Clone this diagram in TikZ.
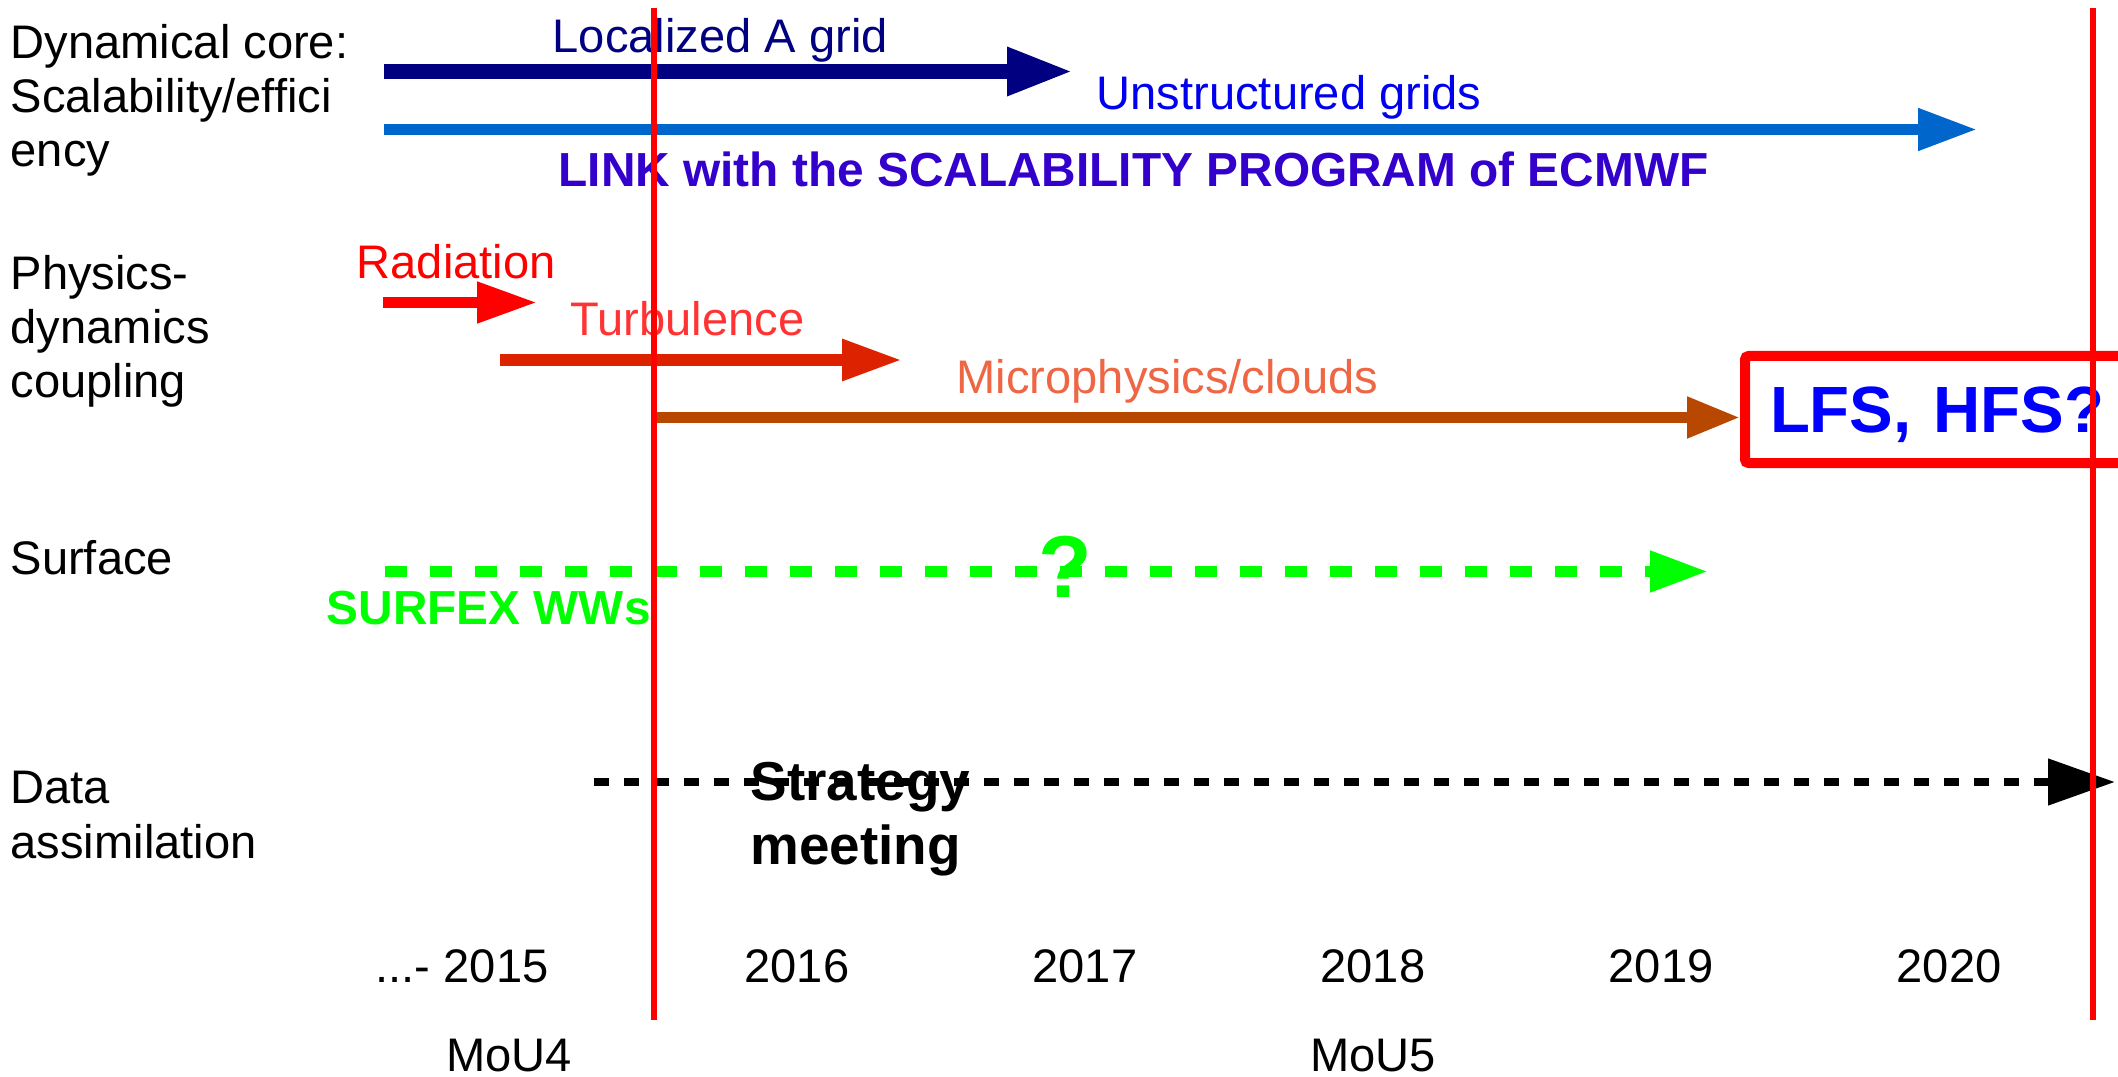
\documentclass[tikz,border=0pt]{standalone}
\usepackage{fontspec}
\setmainfont{Liberation Sans}
\usetikzlibrary{arrows.meta}
\definecolor{navyc}{HTML}{000080}
\definecolor{unstrc}{HTML}{0000EE}
\definecolor{cobalt}{HTML}{0066CC}
\definecolor{linkc}{HTML}{3300CC}
\definecolor{turbtxt}{HTML}{FF3333}
\definecolor{turbc}{HTML}{DD2200}
\definecolor{microtxt}{HTML}{EE6644}
\definecolor{microc}{HTML}{B84700}
\definecolor{surfc}{HTML}{00FF00}
\tikzset{
  >=Triangle,
  bar/.style n args={3}{line width=#1, -{Triangle[length=#2,width=#3]}},
}
\tikzstyle{every node}=[inner sep=0pt, font=\fontsize{13.4}{15.4}\selectfont]
\tikzstyle{lbl}=[anchor=base west, align=left]
\tikzstyle{boldlbl}=[lbl, font=\fontsize{13.6}{15.4}\selectfont\bfseries]
\tikzstyle{yr}=[anchor=base]
\tikzstyle{mouline}=[red, line width=0.6mm]
\tikzstyle{lfsbox}=[draw=red, line width=1mm, rounded corners=1pt, text=blue,
  font=\fontsize{18.6}{20}\selectfont\bfseries, minimum height=1.07cm,
  text width=4cm, align=left, inner xsep=0.25cm, text depth=0pt]

\begin{document}
\begin{tikzpicture}
    \useasboundingbox (0,0) rectangle (21.18,-10.77);
    \clip (0,0) rectangle (21.18,-10.77);

    % rows (multi-line nodes sit on their last baseline)
    \node[lbl] (dyn) at (0.10,-1.67) {Dynamical core:\\Scalability/effici\\ency};
    \node[lbl] (phys) at (0.10,-3.98) {Physics-\\dynamics\\coupling};
    \node[lbl] (surf) at (0.10,-5.74) {Surface};
    \node[lbl] (da) at (0.10,-8.58) {Data\\assimilation};

    % dynamical core
    \node[lbl, text=navyc] (loc) at (5.52,-0.53) {Localized A grid};
    \coordinate (loc-s) at (3.84,-0.715);
    \coordinate (loc-e) at (10.73,-0.715);
    \draw[bar={1.5mm}{6.6mm}{4.5mm}, navyc] (loc-s) -- (loc-e);
    \node[lbl, text=unstrc] (unstr) at (10.96,-1.10) {Unstructured grids};
    \coordinate (unstr-s) at (3.84,-1.295);
    \coordinate (unstr-e) at (19.77,-1.295);
    \draw[bar={1.1mm}{5.9mm}{4mm}, cobalt] (unstr-s) -- (unstr-e);
    \node[boldlbl, text=linkc] (link) at (5.58,-1.87)
      {LINK with the SCALABILITY PROGRAM of ECMWF};

    % physics
    \node[lbl, text=red] (rad) at (3.56,-2.79) {Radiation};
    \coordinate (rad-s) at (3.83,-3.025);
    \coordinate (rad-e) at (5.37,-3.025);
    \draw[bar={1.1mm}{6mm}{3.9mm}, red] (rad-s) -- (rad-e);
    \node[lbl, text=turbtxt] (turb) at (5.70,-3.36) {Turbulence};
    \coordinate (turb-s) at (5.00,-3.60);
    \coordinate (turb-e) at (9.02,-3.60);
    \draw[bar={1.2mm}{6mm}{3.9mm}, turbc] (turb-s) -- (turb-e);
    \node[lbl, text=microtxt] (micro) at (9.56,-3.93) {Microphysics/clouds};
    \node[lfsbox, anchor=west] (lfs) at (17.40,-4.095) {LFS, HFS?};
    \coordinate (micro-s) at (6.54,-4.175);
    \draw[bar={1.1mm}{5.3mm}{3.9mm}, microc] (micro-s) -- (micro-s -| lfs.west);

    % surface
    \coordinate (surf-s) at (3.85,-5.715);
    \coordinate (surf-e) at (17.08,-5.715);
    \draw[bar={1.1mm}{5.8mm}{3.9mm}, surfc, dash pattern=on 2.2mm off 2.3mm]
      (surf-s) -- (surf-e);
    \node[lbl, text=surfc, font=\fontsize{25}{26}\selectfont\bfseries] (quest)
      at (10.38,-5.97) {?};
    \node[boldlbl, text=surfc] (surfex) at (3.26,-6.24) {SURFEX WWs};

    % data assimilation
    \coordinate (da-s) at (5.94,-7.82);
    \coordinate (da-e) at (21.15,-7.82);
    \draw[bar={0.8mm}{6.7mm}{4.5mm}, black, dash pattern=on 1.5mm off 1.5mm]
      (da-s) -- (da-e);
    \node[lbl, font=\fontsize{15.6}{18.2}\selectfont\bfseries] (strat)
      at (7.50,-8.64) {Strategy\\meeting};

    % years
    \node[yr, anchor=base west] (y2015) at (3.75,-9.82) {...- 2015};
    \foreach \yr [count=\i from 0] in {2016,2017,2018,2019,2020}
      \node[yr] (y\yr) at ({7.97+2.88*\i},-9.82) {\yr};
    \node[yr] (mou4) at (5.09,-10.71) {MoU4};
    \node[yr] (mou5) at (13.73,-10.71) {MoU5};

    % MoU limits
    \coordinate (m4-top) at (6.54,-0.08);
    \coordinate (m4-bot) at (6.54,-10.20);
    \coordinate (m5-top) at (20.93,-0.08);
    \coordinate (m5-bot) at (20.93,-10.20);
    \draw[mouline] (m4-top) -- (m4-bot);
    \draw[mouline] (m5-top) -- (m5-bot);
\end{tikzpicture}
\end{document}
